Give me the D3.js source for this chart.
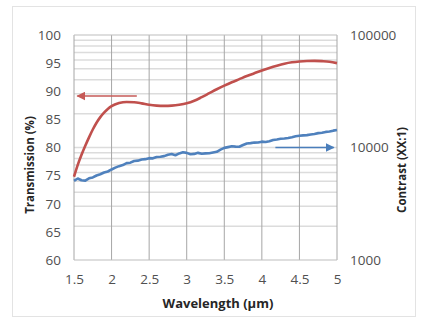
<!DOCTYPE html>
<html>
<head>
<meta charset="utf-8">
<script src="https://cdn.jsdelivr.net/npm/d3@7"></script>
<style>
  html, body { margin: 0; padding: 0; background: #fff; }
  svg { display: block; }
  text { font-family: "Open Sans", "Liberation Sans", sans-serif; }
</style>
</head>
<body>
<svg id="chart" width="425" height="324"></svg>
<script>
// Wavelength ticks (µm)
const xTicks = [1.5, 2, 2.5, 3, 3.5, 4, 4.5, 5];
const leftTicks = [60, 65, 70, 75, 80, 85, 90, 95, 100];
const rightTicks = [1000, 10000, 100000];

// Transmission (%) vs wavelength
const transWavelength = [1.5, 1.55, 1.6, 1.65, 1.7, 1.75, 1.8, 1.85, 1.9, 1.95, 2.0,
  2.1, 2.2, 2.3, 2.4, 2.5, 2.6, 2.7, 2.8, 2.9, 3.0, 3.1, 3.2, 3.3, 3.4, 3.5,
  3.6, 3.7, 3.8, 3.9, 4.0, 4.1, 4.2, 4.3, 4.4, 4.5, 4.6, 4.7, 4.8, 4.9, 5.0];
const transmission = [74.8, 76.9, 78.7, 80.3, 81.8, 83.2, 84.4, 85.4, 86.2, 86.85, 87.35,
  87.9, 88.1, 88.05, 87.85, 87.6, 87.45, 87.4, 87.45, 87.6, 87.85, 88.3, 88.95, 89.65, 90.35, 91.0,
  91.6, 92.15, 92.7, 93.2, 93.7, 94.15, 94.55, 94.9, 95.15, 95.3, 95.38, 95.4, 95.35, 95.25, 95.0];

// Contrast (XX:1) vs wavelength
const contrastWavelength = [1.5, 1.55, 1.6, 1.65, 1.7, 1.75, 1.8, 1.85, 1.9, 1.95,
  2.0, 2.05, 2.1, 2.15, 2.2, 2.25, 2.3, 2.35, 2.4, 2.45,
  2.5, 2.55, 2.6, 2.65, 2.7, 2.75, 2.8, 2.85, 2.9, 2.95,
  3.0, 3.05, 3.1, 3.15, 3.2, 3.25, 3.3, 3.35, 3.4, 3.45,
  3.5, 3.55, 3.6, 3.65, 3.7, 3.75, 3.8, 3.85, 3.9, 3.95,
  4.0, 4.05, 4.1, 4.15, 4.2, 4.25, 4.3, 4.35, 4.4, 4.45,
  4.5, 4.55, 4.6, 4.65, 4.7, 4.75, 4.8, 4.85, 4.9, 4.95, 5.0];
const contrast = [5050, 5300, 5120, 5080, 5320, 5420, 5640, 5780, 5990, 6120,
  6380, 6620, 6830, 6980, 7260, 7330, 7580, 7640, 7820, 7880,
  8040, 8010, 8230, 8280, 8380, 8620, 8760, 8540, 8860, 9060,
  8960, 8700, 8770, 8960, 8800, 8870, 8900, 9030, 9160, 9560,
  9920, 10080, 10260, 10180, 10160, 10520, 10860, 10930, 11060, 11080,
  11270, 11190, 11360, 11660, 11790, 11960, 12040, 12160, 12360, 12590,
  12700, 12820, 12890, 13060, 13190, 13420, 13540, 13760, 13880, 14120, 14300];

// Direction arrows linking each curve to its axis
const transArrow = { from: [2.336, 89.15], to: [1.544, 89.15] };
const contrastArrow = { from: [4.18, 10000], to: [4.957, 10000] };

const svg = d3.select("#chart");
const m = { left: 74, right: 337, top: 35, bottom: 260 };

const x = d3.scaleLinear().domain([1.5, 5]).range([m.left, m.right]);
const yL = d3.scaleLinear().domain([60, 100]).range([m.bottom, m.top]);
const yR = d3.scaleLog().domain([1000, 100000]).range([m.bottom, m.top]);

const red = "#c0504d", blue = "#4f81bd";

// outer frame
svg.append("rect").attr("x", 12.5).attr("y", 6.5).attr("width", 403).attr("height", 310)
  .attr("fill", "none").attr("stroke", "#e3e3e3");

// horizontal log gridlines (right axis minor ticks)
const minor = [];
for (let d = 1000; d < 100000; d *= 10) {
  for (let k = 2; k <= 9; k++) minor.push(d * k);
}
svg.append("g").selectAll("line").data(minor.concat([10000])).join("line")
  .attr("x1", m.left).attr("x2", m.right)
  .attr("y1", d => yR(d)).attr("y2", d => yR(d))
  .attr("stroke", "#dcdcdc").attr("stroke-width", 1.5);

// vertical gridlines
svg.append("g").selectAll("line").data(xTicks).join("line")
  .attr("x1", d => x(d)).attr("x2", d => x(d))
  .attr("y1", m.top).attr("y2", m.bottom)
  .attr("stroke", "#a6a6a6").attr("stroke-width", 1);

// plot border
svg.append("line").attr("x1", m.left).attr("x2", m.right).attr("y1", m.top).attr("y2", m.top)
  .attr("stroke", "#bdbdbd");
svg.append("line").attr("x1", m.left).attr("x2", m.right).attr("y1", m.bottom).attr("y2", m.bottom)
  .attr("stroke", "#bdbdbd").attr("stroke-width", 1.2);

// axes
const axX = d3.axisBottom(x).tickValues(xTicks).tickSize(0).tickPadding(14).tickFormat(d3.format("~g"));
const axL = d3.axisLeft(yL).tickValues(leftTicks).tickSize(0).tickPadding(13);
const axR = d3.axisRight(yR).tickValues(rightTicks).tickSize(0).tickPadding(13).tickFormat(d3.format("d"));

function style(g) {
  g.select(".domain").remove();
  g.selectAll("text").attr("font-size", 13.5).attr("fill", "#505050")
    .attr("font-family", "'Open Sans', sans-serif");
}
svg.append("g").attr("transform", `translate(0,${m.bottom})`).call(axX).call(style);
svg.append("g").attr("transform", `translate(${m.left},0)`).call(axL).call(style);
svg.append("g").attr("transform", `translate(${m.right},0)`).call(axR).call(style);

// curves
const transLine = d3.line().x((d, i) => x(transWavelength[i])).y(d => yL(d)).curve(d3.curveMonotoneX);
svg.append("path").datum(transmission).attr("d", transLine)
  .attr("fill", "none").attr("stroke", red).attr("stroke-width", 2.6);

const conLine = d3.line().x((d, i) => x(contrastWavelength[i])).y(d => yR(d));
svg.append("path").datum(contrast).attr("d", conLine)
  .attr("fill", "none").attr("stroke", blue).attr("stroke-width", 2.6)
  .attr("stroke-linejoin", "round");

// arrows
const defs = svg.append("defs");
function marker(id, color) {
  defs.append("marker").attr("id", id).attr("viewBox", "0 0 10 10")
    .attr("refX", 9).attr("refY", 5).attr("markerWidth", 6).attr("markerHeight", 6)
    .attr("markerUnits", "strokeWidth").attr("orient", "auto")
    .append("path").attr("d", "M0,0 L10,5 L0,10 z").attr("fill", color);
}
marker("ar-red", "#c65a57");
marker("ar-blue", "#4a7ebb");
svg.append("line")
  .attr("x1", x(transArrow.from[0])).attr("y1", yL(transArrow.from[1]))
  .attr("x2", x(transArrow.to[0])).attr("y2", yL(transArrow.to[1]))
  .attr("stroke", "#c65a57").attr("stroke-width", 1.5).attr("marker-end", "url(#ar-red)");
svg.append("line")
  .attr("x1", x(contrastArrow.from[0])).attr("y1", yR(contrastArrow.from[1]))
  .attr("x2", x(contrastArrow.to[0])).attr("y2", yR(contrastArrow.to[1]))
  .attr("stroke", "#4a7ebb").attr("stroke-width", 1.5).attr("marker-end", "url(#ar-blue)");

// axis titles
svg.append("text").attr("x", 218).attr("y", 303).attr("dy", "0.35em")
  .attr("text-anchor", "middle").attr("font-weight", "bold").attr("font-size", 13)
  .attr("fill", "#262626").text("Wavelength (μm)");
svg.append("text").attr("transform", "translate(30,165) rotate(-90)").attr("dy", "0.35em")
  .attr("text-anchor", "middle").attr("font-weight", "bold").attr("font-size", 11.5)
  .attr("fill", "#262626").text("Transmission (%)");
svg.append("text").attr("transform", "translate(402,170) rotate(-90)").attr("dy", "0.35em")
  .attr("text-anchor", "middle").attr("font-weight", "bold").attr("font-size", 11.5)
  .attr("fill", "#262626").text("Contrast (XX:1)");
</script>
</body>
</html>
